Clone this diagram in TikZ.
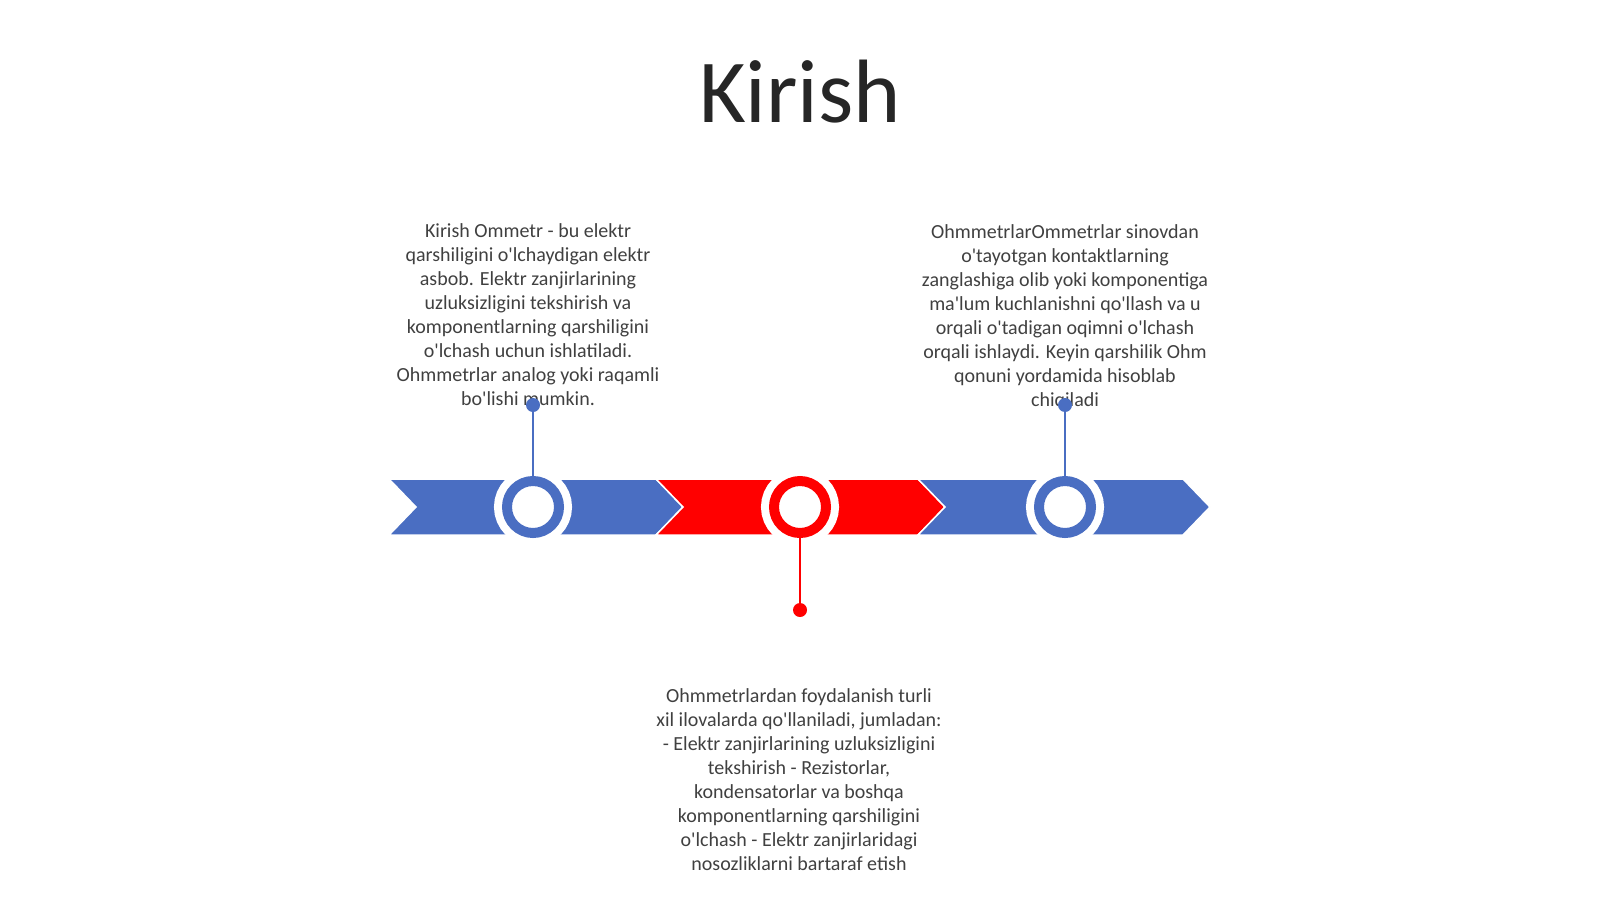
\documentclass[tikz,border=0pt]{standalone}
\usepackage{fontspec}
\setmainfont{Carlito}
\newcommand{\myq}{\textquotesingle}
\definecolor{tlblue}{HTML}{4A6EC2}
\definecolor{tlred}{HTML}{FF0000}
\definecolor{txtgray}{HTML}{404040}
\definecolor{titlegray}{HTML}{262626}
\tikzset{
  chev/.style={draw=white, line width=1.5pt, line join=miter},
  ring/.style={circle, draw=#1, fill=white, line width=10pt, minimum size=52pt, inner sep=0pt,
    preaction={draw=white, line width=26pt}},
  dotnode/.style={circle, fill=#1, minimum size=14pt, inner sep=0pt},
  stem/.style={draw=#1, line width=2.5pt},
  txt/.style={align=center, text=txtgray, font=\fontsize{20pt}{24pt}\selectfont, inner sep=0pt},
}
\begin{document}
\begin{tikzpicture}[x=1pt,y=-1pt]
\useasboundingbox (0,0) rectangle (1600,899);
\node[text=titlegray, font=\fontsize{90pt}{100pt}\selectfont, inner sep=0pt] (title) at (800,92) {Kirish};
% chevrons
\fill[tlblue, chev] (389,479) -- (656,479) -- (683,507) -- (656,535) -- (389,535) -- (416,507) -- cycle;
\fill[tlred, chev] (656,479) -- (918,479) -- (945,507) -- (918,535) -- (656,535) -- (683,507) -- cycle;
\fill[tlblue, chev] (918,479) -- (1183,479) -- (1210,507) -- (1183,535) -- (918,535) -- (945,507) -- cycle;
% text blocks
\node[txt] (t1) at (528,315) {Kirish Ommetr - bu elektr\\qarshiligini o\myq lchaydigan elektr\\asbob. Elektr zanjirlarining\\uzluksizligini tekshirish va\\komponentlarning qarshiligini\\o\myq lchash uchun ishlatiladi.\\Ohmmetrlar analog yoki raqamli\\bo\myq lishi mumkin.};
\node[txt] (t2) at (1065,317) {OhmmetrlarOmmetrlar sinovdan\\o\myq tayotgan kontaktlarning\\zanglashiga olib yoki komponentiga\\ma\myq lum kuchlanishni qo\myq llash va u\\orqali o\myq tadigan oqimni o\myq lchash\\orqali ishlaydi. Keyin qarshilik Ohm\\qonuni yordamida hisoblab\\chiqiladi};
\node[txt] (t3) at (799,780) {Ohmmetrlardan foydalanish turli\\xil ilovalarda qo\myq llaniladi, jumladan:\\- Elektr zanjirlarining uzluksizligini\\tekshirish - Rezistorlar,\\kondensatorlar va boshqa\\komponentlarning qarshiligini\\o\myq lchash - Elektr zanjirlaridagi\\nosozliklarni bartaraf etish};
% rings
\node[ring=tlblue] (c1) at (533,507) {};
\node[ring=tlred] (c2) at (800,507) {};
\node[ring=tlblue] (c3) at (1065,507) {};
% dots and stems
\node[dotnode=tlblue] (d1) at (533,405) {};
\node[dotnode=tlred] (d2) at (800,610) {};
\node[dotnode=tlblue] (d3) at (1065,405) {};
\draw[stem=tlblue] (c1.north) -- (d1.center);
\draw[stem=tlred] (c2.south) -- (d2.center);
\draw[stem=tlblue] (c3.north) -- (d3.center);
\end{tikzpicture}
\end{document}
